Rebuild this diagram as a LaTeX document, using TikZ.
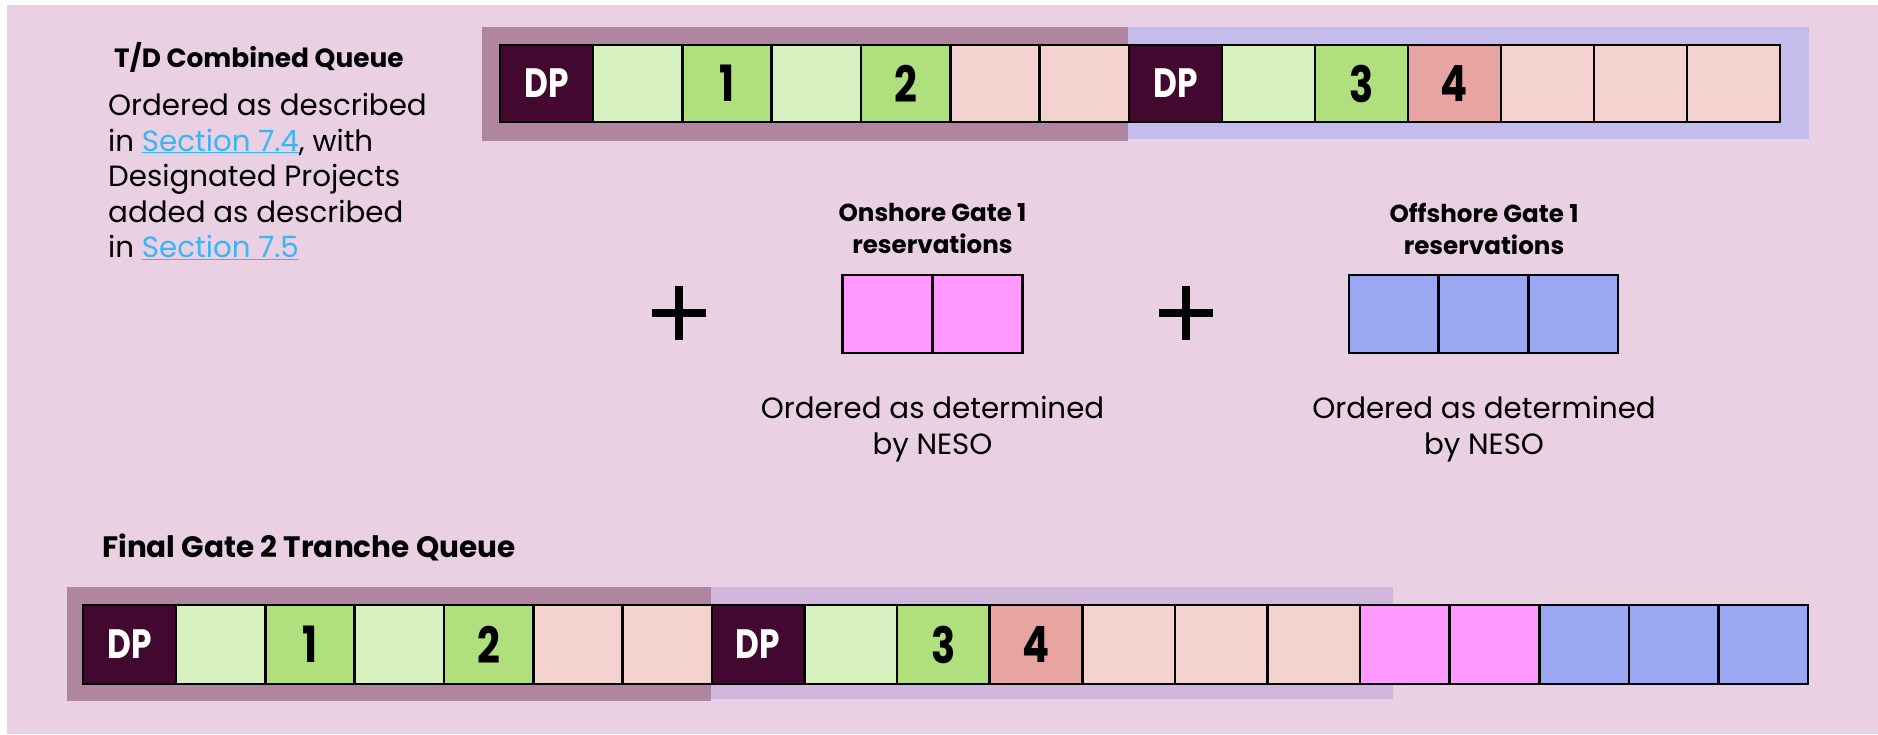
\documentclass[tikz,border=0pt]{standalone}
\usepackage{fontspec}
\setmainfont{Poppins}
\newfontfamily\cellfont{Poppins}[FakeStretch=0.8]
\usetikzlibrary{positioning}

\definecolor{bgpink}{HTML}{E9D0E3}
\definecolor{bandpurple}{HTML}{B085A0}
\definecolor{bandlavtop}{HTML}{C4BCEA}
\definecolor{bandlavbot}{HTML}{D0B8DC}
\definecolor{dpfill}{HTML}{420830}
\definecolor{lgreen}{HTML}{D6F0C0}
\definecolor{green}{HTML}{B0E07E}
\definecolor{ppink}{HTML}{F4D2D0}
\definecolor{salmon}{HTML}{E8A4A0}
\definecolor{onpink}{HTML}{FF99FF}
\definecolor{offblue}{HTML}{9AA8F4}
\definecolor{linkblue}{HTML}{3CB4F8}

\newcommand{\seclink}[1]{\textcolor{linkblue}{\underline{#1}}}

\begin{document}
\begin{tikzpicture}[x=1pt, y=-1pt, node distance=0pt]

    \tikzset{
        cell/.style={draw=black, line width=2.6pt, rectangle, minimum height=77pt, minimum width=89.3pt, inner sep=0pt, outer sep=0pt, font=\cellfont\bfseries\fontsize{50}{50}\selectfont},
        dpcell/.style={cell, fill=dpfill, text=white, minimum width=93pt, font=\cellfont\bfseries\fontsize{41}{41}\selectfont},
        title/.style={inner sep=0pt, font=\bfseries\fontsize{26.4}{31}\selectfont},
        body/.style={inner sep=0pt, font=\fontsize{29.3}{35.5}\selectfont}
    }

    % Hintergrund
    \useasboundingbox (0,0) rectangle (1878,734);
    \fill[white] (0,0) rectangle (1878,734);
    \fill[bgpink] (7,5) rectangle (1878,734);

    % Baender hinter den Reihen
    \fill[bandpurple] (482,27) rectangle (1128,141);
    \fill[bandlavtop] (1128,27) rectangle (1809,139);
    \fill[bandpurple] (67,587) rectangle (711,701);
    \fill[bandlavbot] (711,587) rectangle (1393,699);

    % Texte links
    \node[title, anchor=base west] (tdtitle) at (114,67) {T/D Combined Queue};
    \node[body, anchor=north west, align=left] (tddesc) at (108,93)
        {Ordered as described\\in \seclink{Section 7.4}, with\\Designated Projects\\added as described\\in \seclink{Section 7.5}};

    % T/D Reihe oben
    \node[dpcell, anchor=west] (ta1) at (500,83.5) {DP};
    \foreach \c/\t [count=\i from 2] in {lgreen/{}, green/1, lgreen/{}, green/2, ppink/{}, ppink/{}} {
        \pgfmathtruncatemacro\j{\i-1}
        \node[cell, fill=\c, right=of ta\j] (ta\i) {\t};
    }
    \node[dpcell, right=of ta7] (tb1) {DP};
    \foreach \c/\t [count=\i from 2] in {lgreen/{}, green/3, salmon/4, ppink/{}, ppink/{}, ppink/{}} {
        \pgfmathtruncatemacro\j{\i-1}
        \node[cell, fill=\c, minimum width=93pt, right=of tb\j] (tb\i) {\t};
    }

    % Gate 1 Reservierungen
    \draw[line width=8pt] (679,286) -- (679,340) (652,313) -- (706,313);
    \draw[line width=8pt] (1186,286) -- (1186,340) (1159,313) -- (1213,313);

    \node[title, font=\bfseries\fontsize{24.6}{31.7}\selectfont, anchor=north, align=center] (ontitle) at (932.5,203) {Onshore Gate 1\\reservations};
    \node[cell, fill=onpink, minimum width=90pt, minimum height=78pt, anchor=west] (on1) at (842.6,314) {};
    \node[cell, fill=onpink, minimum width=90pt, minimum height=78pt, right=of on1] (on2) {};
    \node[body, anchor=north, align=center] (ondesc) at (932.5,396) {Ordered as determined\\by NESO};

    \node[title, font=\bfseries\fontsize{24.6}{31.7}\selectfont, anchor=north, align=center] (offtitle) at (1484,203) {Offshore Gate 1\\reservations};
    \node[cell, fill=offblue, minimum width=89.7pt, minimum height=78pt, anchor=west] (off1) at (1349,314) {};
    \node[cell, fill=offblue, minimum width=89.7pt, minimum height=78pt, right=of off1] (off2) {};
    \node[cell, fill=offblue, minimum width=89.7pt, minimum height=78pt, right=of off2] (off3) {};
    \node[body, anchor=north, align=center] (offdesc) at (1484,396) {Ordered as determined\\by NESO};

    % Finale Reihe unten
    \node[title, font=\bfseries\fontsize{29.5}{34}\selectfont, anchor=base west] (fintitle) at (102,557) {Final Gate 2 Tranche Queue};
    \node[dpcell, minimum height=79pt, anchor=west] (fa1) at (83,644.5) {DP};
    \foreach \c/\t [count=\i from 2] in {lgreen/{}, green/1, lgreen/{}, green/2, ppink/{}, ppink/{}} {
        \pgfmathtruncatemacro\j{\i-1}
        \node[cell, fill=\c, minimum height=79pt, right=of fa\j] (fa\i) {\t};
    }
    \node[dpcell, minimum width=92.6pt, minimum height=79pt, right=of fa7] (fb1) {DP};
    \foreach \c/\t [count=\i from 2] in {lgreen/{}, green/3, salmon/4, ppink/{}, ppink/{}, ppink/{}} {
        \pgfmathtruncatemacro\j{\i-1}
        \node[cell, fill=\c, minimum width=92.6pt, minimum height=79pt, right=of fb\j] (fb\i) {\t};
    }
    \node[cell, fill=onpink, minimum width=89.6pt, minimum height=79pt, right=of fb7] (fc1) {};
    \foreach \c [count=\i from 2] in {onpink, offblue, offblue, offblue} {
        \pgfmathtruncatemacro\j{\i-1}
        \node[cell, fill=\c, minimum width=89.6pt, minimum height=79pt, right=of fc\j] (fc\i) {};
    }

\end{tikzpicture}
\end{document}
